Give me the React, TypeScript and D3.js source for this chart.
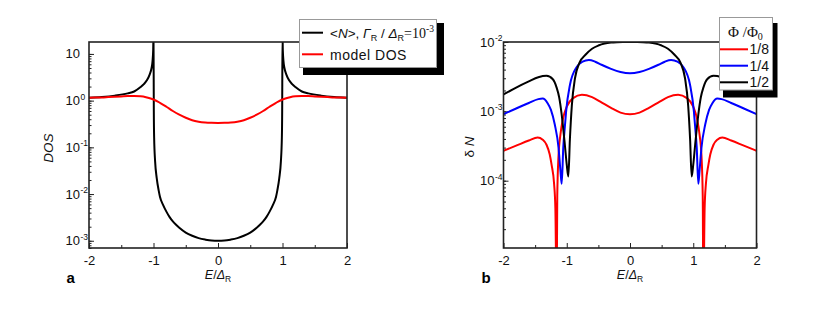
import { useEffect, useRef } from 'react';
import * as d3 from 'd3';

// panel a: averaged DOS and model DOS
const dosE = [
  -2, -1.8, -1.6, -1.4, -1.3, -1.2, -1.15, -1.1, -1.06, -1.03, -1.015, -1.005, -1,
  -0.995, -0.99, -0.975, -0.95, -0.92, -0.9, -0.85, -0.8, -0.75, -0.7, -0.65, -0.6, -0.5, -0.4, -0.3, -0.2, -0.1,
  0,
  0.1, 0.2, 0.3, 0.4, 0.5, 0.6, 0.65, 0.7, 0.75, 0.8, 0.85, 0.9, 0.92, 0.95, 0.975, 0.99, 0.995,
  1, 1.005, 1.015, 1.03, 1.06, 1.1, 1.15, 1.2, 1.3, 1.4, 1.6, 1.8, 2,
];
const dosAvg = [
  1.155, 1.2, 1.28, 1.43, 1.57, 1.95, 2.25, 2.75, 3.6, 5.0, 7.0, 12, 25,
  0.6, 0.16, 0.05, 0.022, 0.012, 0.0088, 0.0058, 0.0042, 0.0032, 0.0026, 0.0022, 0.0019, 0.0015, 0.00128, 0.00114, 0.00106, 0.00101,
  0.001,
  0.00101, 0.00106, 0.00114, 0.00128, 0.0015, 0.0019, 0.0022, 0.0026, 0.0032, 0.0042, 0.0058, 0.0088, 0.012, 0.022, 0.05, 0.16, 0.6,
  25, 12, 7.0, 5.0, 3.6, 2.75, 2.25, 1.95, 1.57, 1.43, 1.28, 1.2, 1.155,
];
const modelE = [
  -2, -1.9, -1.8, -1.7, -1.6, -1.5, -1.4, -1.3, -1.2, -1.1, -1, -0.9, -0.8, -0.7, -0.6, -0.5, -0.4, -0.3, -0.2, -0.1,
  0, 0.1, 0.2, 0.3, 0.4, 0.5, 0.6, 0.7, 0.8, 0.9, 1, 1.1, 1.2, 1.3, 1.4, 1.5, 1.6, 1.7, 1.8, 1.9, 2,
];
const modelDos = [
  1.15, 1.16, 1.17, 1.19, 1.21, 1.23, 1.25, 1.25, 1.24, 1.17, 1.06, 0.9, 0.74, 0.6, 0.5, 0.43, 0.38, 0.355, 0.342, 0.336,
  0.334, 0.336, 0.342, 0.355, 0.38, 0.43, 0.5, 0.6, 0.74, 0.9, 1.06, 1.17, 1.24, 1.25, 1.25, 1.23, 1.21, 1.19, 1.17, 1.16, 1.15,
];

// panel b: delta N for three flux values
const phiLabels = ['1/8', '1/4', '1/2'];
const phiColors = ['#ff0000', '#0000ff', '#000000'];
const dnE8 = [
  -2, -1.8, -1.6, -1.46, -1.38, -1.32, -1.27, -1.24, -1.2, -1.18, -1.16, -1.15, -1.13, -1.1, -1.06, -1, -0.9, -0.76, -0.6, -0.47, -0.3, -0.15,
  0,
  0.15, 0.3, 0.47, 0.6, 0.76, 0.9, 1, 1.06, 1.1, 1.13, 1.15, 1.16, 1.18, 1.2, 1.24, 1.27, 1.32, 1.38, 1.46, 1.6, 1.8, 2,
];
const dn8 = [
  2.7e-4, 3.2e-4, 3.8e-4, 4.2e-4, 3.9e-4, 3.3e-4, 2.4e-4, 1.7e-4, 9e-5, 4e-5, 2e-6, 6e-5, 2.3e-4, 4.6e-4, 7.8e-4, 1.17e-3, 1.55e-3, 1.73e-3, 1.6e-3, 1.38e-3, 1.12e-3, 9.6e-4,
  9.1e-4,
  9.6e-4, 1.12e-3, 1.38e-3, 1.6e-3, 1.73e-3, 1.55e-3, 1.17e-3, 7.8e-4, 4.6e-4, 2.3e-4, 6e-5, 2e-6, 4e-5, 9e-5, 1.7e-4, 2.4e-4, 3.3e-4, 3.9e-4, 4.2e-4, 3.8e-4, 3.2e-4, 2.7e-4,
];
const dnE4 = [
  -2, -1.8, -1.6, -1.45, -1.38, -1.3, -1.25, -1.19, -1.13, -1.1, -1.08, -1.055, -1.03, -1.01, -0.95, -0.84, -0.75, -0.65, -0.55, -0.45, -0.3, -0.15,
  0,
  0.15, 0.3, 0.45, 0.55, 0.65, 0.75, 0.84, 0.95, 1.01, 1.03, 1.055, 1.08, 1.1, 1.13, 1.19, 1.25, 1.3, 1.38, 1.45, 1.6, 1.8, 2,
];
const dn4 = [
  9.1e-4, 1.1e-3, 1.32e-3, 1.5e-3, 1.53e-3, 1.3e-3, 1.05e-3, 6.5e-4, 3.0e-4, 1.4e-4, 9e-5, 3e-4, 6e-4, 1.0e-3, 2.4e-3, 4.4e-3, 5.2e-3, 5.5e-3, 5.2e-3, 4.7e-3, 4.1e-3, 3.7e-3,
  3.55e-3,
  3.7e-3, 4.1e-3, 4.7e-3, 5.2e-3, 5.5e-3, 5.2e-3, 4.4e-3, 2.4e-3, 1.0e-3, 6e-4, 3e-4, 9e-5, 1.4e-4, 3.0e-4, 6.5e-4, 1.05e-3, 1.3e-3, 1.53e-3, 1.5e-3, 1.32e-3, 1.1e-3, 9.1e-4,
];
const dnE2 = [
  -2, -1.8, -1.6, -1.45, -1.32, -1.22, -1.16, -1.12, -1.08, -1.03, -1, -0.975, -0.95, -0.92, -0.87, -0.8, -0.7, -0.6, -0.5, -0.4, -0.3, -0.2, -0.1,
  0,
  0.1, 0.2, 0.3, 0.4, 0.5, 0.6, 0.7, 0.8, 0.87, 0.92, 0.95, 0.975, 1, 1.03, 1.08, 1.12, 1.16, 1.22, 1.32, 1.45, 1.6, 1.8, 2,
];
const dn2 = [
  1.75e-3, 2.2e-3, 2.7e-3, 3.1e-3, 3.25e-3, 2.9e-3, 2.2e-3, 1.6e-3, 9e-4, 3.3e-4, 1.7e-4, 1.15e-4, 4e-4, 1.2e-3, 3.0e-3, 5.0e-3, 6.6e-3, 8.0e-3, 8.9e-3, 9.5e-3, 9.8e-3, 9.93e-3, 9.98e-3,
  1e-2,
  9.98e-3, 9.93e-3, 9.8e-3, 9.5e-3, 8.9e-3, 8.0e-3, 6.6e-3, 5.0e-3, 3.0e-3, 1.2e-3, 4e-4, 1.15e-4, 1.7e-4, 3.3e-4, 9e-4, 1.6e-3, 2.2e-3, 2.9e-3, 3.25e-3, 3.1e-3, 2.7e-3, 2.2e-3, 1.75e-3,
];

const xMajor = [-2, -1, 0, 1, 2];
const xMinor = [-1.5, -0.5, 0.5, 1.5];
const aYTicks = [10, 1, 0.1, 0.01, 0.001];
const aYExp = [null, '0', '-1', '-2', '-3'];
const bYTicks = [0.01, 0.001, 0.0001];
const bYExp = ['-2', '-3', '-4'];

const SANS = "'Liberation Sans', Arial, Helvetica, sans-serif";
const SERIF = "'Liberation Serif', 'Times New Roman', serif";

type Sel = d3.Selection<SVGGElement, unknown, null, undefined>;

function drawFrame(
  g: Sel,
  x: d3.ScaleLinear<number, number>,
  y: d3.ScaleLogarithmic<number, number>,
  yTicks: number[],
  yExp: (string | null)[],
  id: string,
) {
  const [x0, x1] = x.range();
  const [y1, y0] = y.range();

  g.append('clipPath')
    .attr('id', id)
    .append('rect')
    .attr('x', x0)
    .attr('y', y0)
    .attr('width', x1 - x0)
    .attr('height', y1 - y0);

  // bottom axis, ticks pointing inward
  const bottom = g
    .append('g')
    .attr('transform', `translate(0,${y1})`)
    .call(d3.axisBottom(x).tickValues(xMajor).tickSize(-5).tickPadding(7.5).tickFormat((d) => String(d)));
  bottom.selectAll('text').attr('font-size', 13).attr('font-family', SANS).attr('fill', '#111');
  g.append('g')
    .attr('transform', `translate(0,${y1})`)
    .call(d3.axisBottom(x).tickValues(xMinor).tickSize(-3).tickFormat(() => ''));

  // left log axis, minor and major ticks
  g.append('g')
    .attr('transform', `translate(${x0},0)`)
    .call(d3.axisLeft(y).tickValues(y.ticks()).tickSize(-2.5).tickFormat(() => ''));
  g.append('g')
    .attr('transform', `translate(${x0},0)`)
    .call(d3.axisLeft(y).tickValues(yTicks).tickSize(-5).tickFormat(() => ''));

  g.selectAll('.domain').remove();
  g.selectAll('.tick line').attr('stroke', '#222').attr('stroke-width', 1);

  const labels = g.append('g').attr('font-family', SANS).attr('fill', '#111');
  yTicks.forEach((v, i) => {
    const ty = y(v);
    labels
      .append('text')
      .attr('x', x0 - 9)
      .attr('y', ty + 4.5)
      .attr('text-anchor', 'end')
      .attr('font-size', 13)
      .text('10');
    const e = yExp[i];
    if (e !== null) {
      labels
        .append('text')
        .attr('x', x0 - 8.5)
        .attr('y', ty - 1)
        .attr('font-size', 8.5)
        .text(e);
    }
  });

  // x title  E/Δ_R
  const xt = g
    .append('text')
    .attr('x', (x0 + x1) / 2)
    .attr('y', 278.5)
    .attr('text-anchor', 'middle')
    .attr('font-family', SANS)
    .attr('font-size', 12.5)
    .attr('fill', '#111');
  xt.append('tspan').attr('font-style', 'italic').text('E');
  xt.append('tspan').text('/');
  xt.append('tspan').attr('font-style', 'italic').text('Δ');
  xt.append('tspan').attr('font-size', 8.5).attr('dy', 3).text('R');
}

export default function App() {
  const svgRef = useRef<SVGSVGElement>(null);

  useEffect(() => {
    if (!svgRef.current) return;
    const svg = d3.select(svgRef.current);
    svg.selectAll('*').remove();
    const root = svg.append('g') as Sel;

    // ---------- panel a ----------
    const xa = d3.scaleLinear().domain([-2, 2]).range([89, 347]);
    const ya = d3.scaleLog().domain([7e-4, 18]).range([248, 42]);
    const ga = root.append('g') as Sel;
    drawFrame(ga, xa, ya, aYTicks, aYExp, 'clip-a');

    const lineA = d3
      .line<[number, number]>()
      .x((d) => xa(d[0]))
      .y((d) => ya(d[1]))
      .curve(d3.curveMonotoneX);

    const plotA = ga.append('g').attr('clip-path', 'url(#clip-a)');
    plotA
      .append('path')
      .datum(dosE.map((e, i) => [e, dosAvg[i]] as [number, number]))
      .attr('fill', 'none')
      .attr('stroke', '#000')
      .attr('stroke-width', 2)
      .attr('d', lineA);
    plotA
      .append('path')
      .datum(modelE.map((e, i) => [e, modelDos[i]] as [number, number]))
      .attr('fill', 'none')
      .attr('stroke', '#ff0000')
      .attr('stroke-width', 2)
      .attr('d', lineA);

    ga.append('rect')
      .attr('x', 89)
      .attr('y', 42)
      .attr('width', 258)
      .attr('height', 206)
      .attr('fill', 'none')
      .attr('stroke', '#222')
      .attr('stroke-width', 1.6);

    ga.append('text')
      .attr('transform', 'translate(53,148) rotate(-90)')
      .attr('text-anchor', 'middle')
      .attr('font-family', SANS)
      .attr('font-style', 'italic')
      .attr('font-size', 13.5)
      .attr('fill', '#111')
      .text('DOS');

    ga.append('text')
      .attr('x', 66.5)
      .attr('y', 283)
      .attr('font-family', SANS)
      .attr('font-weight', 'bold')
      .attr('font-size', 15)
      .text('a');

    // legend a
    const la = ga.append('g');
    la.append('rect').attr('x', 303).attr('y', 23).attr('width', 141).attr('height', 52).attr('fill', '#000');
    la.append('rect')
      .attr('x', 299.5)
      .attr('y', 19.5)
      .attr('width', 137)
      .attr('height', 48)
      .attr('fill', '#fff')
      .attr('stroke', '#999')
      .attr('stroke-width', 1);
    la.append('line').attr('x1', 302).attr('x2', 323).attr('y1', 32.7).attr('y2', 32.7).attr('stroke', '#000').attr('stroke-width', 2);
    la.append('line').attr('x1', 302).attr('x2', 323).attr('y1', 54.3).attr('y2', 54.3).attr('stroke', '#ff0000').attr('stroke-width', 2);
    const t1 = la
      .append('text')
      .attr('x', 330)
      .attr('y', 37.5)
      .attr('font-family', SANS)
      .attr('font-size', 13.5)
      .attr('fill', '#111');
    t1.append('tspan').text('<');
    t1.append('tspan').attr('font-style', 'italic').text('N');
    t1.append('tspan').text('>, ');
    t1.append('tspan').attr('font-style', 'italic').text('Γ');
    t1.append('tspan').attr('font-size', 9).attr('dy', 3).text('R');
    t1.append('tspan').attr('dy', -3).text(' / ');
    t1.append('tspan').attr('font-style', 'italic').text('Δ');
    t1.append('tspan').attr('font-size', 9).attr('dy', 3).text('R');
    t1.append('tspan').attr('dy', -3).attr('font-family', SERIF).attr('font-size', 14).text('=10');
    t1.append('tspan').attr('dy', -6).attr('font-family', SERIF).attr('font-size', 9.5).text('-3');
    la.append('text')
      .attr('x', 330)
      .attr('y', 59.5)
      .attr('font-family', SANS)
      .attr('font-size', 14)
      .attr('letter-spacing', 0.5)
      .attr('fill', '#111')
      .text('model DOS');

    // ---------- panel b ----------
    const xb = d3.scaleLinear().domain([-2, 2]).range([503.5, 756.5]);
    const yb = d3.scaleLog().domain([1.07e-5, 1e-2]).range([248, 42]);
    const gb = root.append('g') as Sel;
    drawFrame(gb, xb, yb, bYTicks, bYExp, 'clip-b');

    const lineB = d3
      .line<[number, number]>()
      .x((d) => xb(d[0]))
      .y((d) => yb(d[1]))
      .curve(d3.curveMonotoneX);

    const series = [
      { e: dnE8, v: dn8 },
      { e: dnE4, v: dn4 },
      { e: dnE2, v: dn2 },
    ];
    const plotB = gb.append('g').attr('clip-path', 'url(#clip-b)');
    series.forEach((s, k) => {
      plotB
        .append('path')
        .datum(s.e.map((e, i) => [e, s.v[i]] as [number, number]))
        .attr('fill', 'none')
        .attr('stroke', phiColors[k])
        .attr('stroke-width', 2)
        .attr('d', lineB);
    });

    gb.append('rect')
      .attr('x', 503.5)
      .attr('y', 42)
      .attr('width', 253)
      .attr('height', 206)
      .attr('fill', 'none')
      .attr('stroke', '#222')
      .attr('stroke-width', 1.6);

    const yt = gb
      .append('text')
      .attr('transform', 'translate(473.5,147) rotate(-90)')
      .attr('text-anchor', 'middle')
      .attr('font-family', SANS)
      .attr('font-size', 13.5)
      .attr('fill', '#111');
    yt.append('tspan').text('δ ');
    yt.append('tspan').attr('font-style', 'italic').text('N');

    gb.append('text')
      .attr('x', 481.5)
      .attr('y', 283)
      .attr('font-family', SANS)
      .attr('font-weight', 'bold')
      .attr('font-size', 15)
      .text('b');

    // legend b
    const lb = gb.append('g');
    lb.append('rect').attr('x', 723).attr('y', 23).attr('width', 54.5).attr('height', 74.5).attr('fill', '#000');
    lb.append('rect')
      .attr('x', 719.5)
      .attr('y', 17.5)
      .attr('width', 53)
      .attr('height', 72.5)
      .attr('fill', '#fff')
      .attr('stroke', '#999')
      .attr('stroke-width', 1);
    const tt = lb
      .append('text')
      .attr('x', 728)
      .attr('y', 36.5)
      .attr('font-family', SERIF)
      .attr('font-size', 15)
      .attr('fill', '#111');
    tt.append('tspan').text('Φ /Φ');
    tt.append('tspan').attr('font-size', 10).attr('dy', 3).text('0');
    const rowY = [49.3, 65.7, 82.3];
    phiLabels.forEach((lab, k) => {
      lb.append('line')
        .attr('x1', 720)
        .attr('x2', 748)
        .attr('y1', rowY[k])
        .attr('y2', rowY[k])
        .attr('stroke', phiColors[k])
        .attr('stroke-width', 2);
      lb.append('text')
        .attr('x', 749.5)
        .attr('y', rowY[k] + 5)
        .attr('font-family', SANS)
        .attr('font-size', 14)
        .attr('fill', '#111')
        .text(lab);
    });
  }, []);

  return (
    <svg
      ref={svgRef}
      width={831}
      height={312}
      style={{ position: 'absolute', left: 0, top: 0, background: '#fff', display: 'block' }}
    />
  );
}
